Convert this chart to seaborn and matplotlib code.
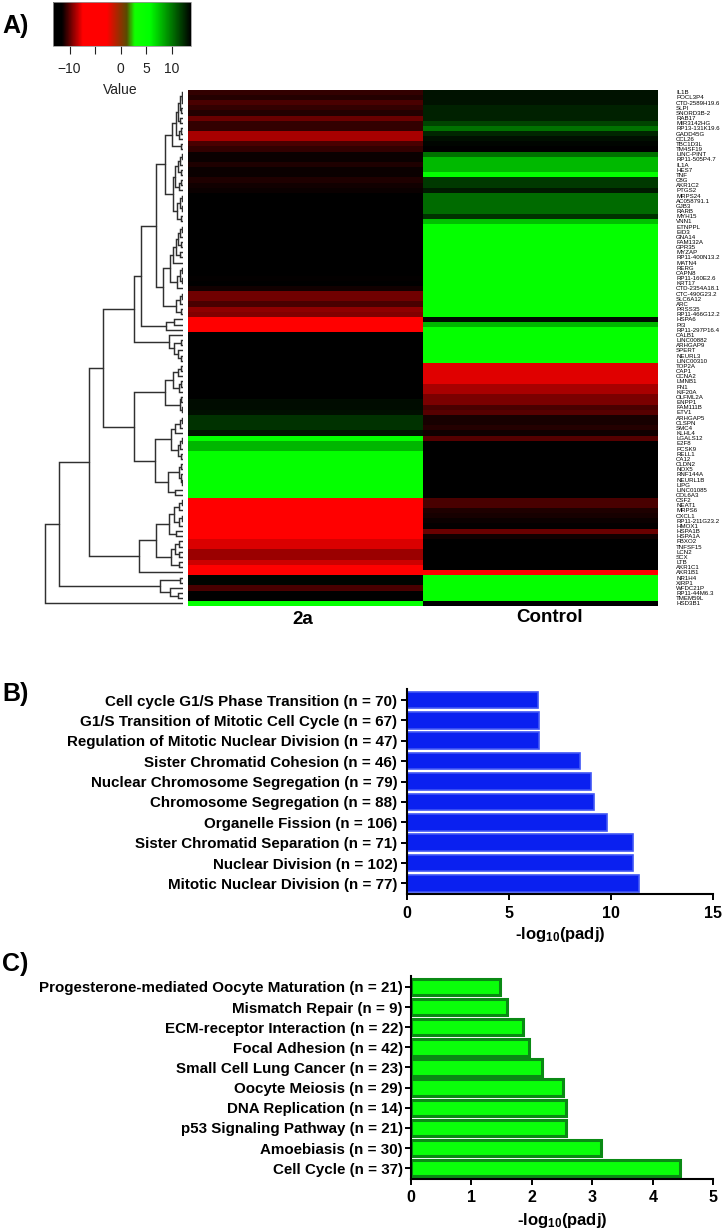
import pandas as pd
import matplotlib.pyplot as plt
from matplotlib.cm import ScalarMappable
from matplotlib.colors import LinearSegmentedColormap, Normalize
import seaborn as sns

sns.set_style("white")
plt.rcParams["font.family"] = ["Liberation Sans", "DejaVu Sans"]
plt.rcParams["mathtext.default"] = "regular"
plt.rcParams["text.color"] = "black"
plt.rcParams["axes.labelcolor"] = "black"
plt.rcParams["xtick.color"] = "black"
plt.rcParams["ytick.color"] = "black"

FIG_W, FIG_H = 722, 1228

# Panel A: heatmap, one value per gene
GENES = [
    "IL1B", "POCL3P4", "CTD-2589H19.6", "SLPI", "SNORD3B-2", "RAB17", "MIR3142HG",
    "RP13-131K19.6", "GADD45G", "CCL26", "TBC1D3L", "TM4SF19", "LINC-PINT",
    "RP11-505P4.7", "IL1A", "HES7", "TNF", "C8G", "AKR1C2", "PTGS2", "MRPS24",
    "AC058791.1", "GJB3", "RARB", "MYH15", "VNN1", "ETNPPL", "EID3", "GNA14",
    "FAM132A", "GPR35", "MYZAP", "RP11-400N13.2", "MATN4", "RERG", "CAPN8",
    "RP11-160E2.6", "KRT17", "CTD-2354A18.1", "CTC-490G23.2", "SLC6A12", "ARC",
    "PRSS35", "RP11-466G12.2", "HSPA6", "PI3", "RP11-297P16.4", "CALB1",
    "LINC00882", "ARHGAP9", "SPERT", "NEURL3", "LINC00310", "TOP2A", "CAP1",
    "CCNA2", "LMNB1", "FN1", "KIF20A", "OLFML2A", "ENPP1", "FAM111B", "ETV1",
    "ARHGAP5", "CLSPN", "SMC4", "KLHL4", "LGALS12", "E2F8", "PCSK9", "RELL1",
    "CA12", "CLDN2", "NOX5", "RNF144A", "NEURL1B", "LIPG", "LINC01085", "COL6A3",
    "CSF2", "NEAT1", "MRPS6", "CXCL1", "RP11-211G23.2", "HMOX1", "HSPA1B",
    "HSPA1A", "FBXO2", "TNFSF15", "LCN2", "SCX", "LTB", "AKR1C1", "AKR1B1",
    "NR1H4", "XIRP1", "WFDC21P", "RP11-44M6.3", "TMEM59L", "HSD3B1",
]
VALUES_2A = [
    -10.7, -10.9, -10.3, -10.7, -10.9, -9.8, -10.7, -10.7, -8.8, -8.8,
    -10.3, -10.7, -11.3, -11.3, -11.0, -11.3, -11.3, -11.0, -11.2, -11.3,
    -12, -12, -12, -12, -12, -12, -12, -12, -12, -12,
    -12, -12, -12, -12, -12, -12, -11.4, -12, -11.2, -9.7,
    -9.7, -10.3, -9.2, -9.4, -5, -5, -5, -12, -12, -12,
    -12, -12, -12, -12, -12, -12, -12, -12, -12, -12,
    13.4, 13.4, 13.3, 12.2, 12.2, 12.2, 13.2, 5, 8, 8,
    5, 5, 5, 5, 5, 5, 5, 5, 5, -5,
    -5, -5, -5, -5, -5, -5, -5, -8.0, -8.0, -9.0,
    -9.0, -8.2, -5, -5, 13.6, 13.6, -10.3, -12, -12, 5,
]
VALUES_CONTROL = [
    13.2, 13.2, 13.2, 12.7, 12.7, 12.7, 11.6, 10.2, 12.6, 13.3,
    13.6, 13.8, 10.2, 7.9, 7.9, 7.9, 5, 12, 12, 13,
    10.4, 10.4, 10.4, 10.4, 12.2, 7.7, 5, 5, 5, 5,
    5, 5, 5, 5, 5, 5, 5, 5, 5, 5,
    5, 5, 5, 5, 13.4, 8, 5, 5, 5, 5,
    5, 5, 5, -7.9, -7.9, -7.9, -7.9, -8.8, -8.8, -9.5,
    -9.5, -10.3, -10.1, -11.1, -11.1, -10.9, -11.2, -10.1, -12, -12,
    -12, -12, -12, -12, -12, -12, -12, -12, -12, -10.3,
    -10.3, -11.0, -11.1, -11.3, -11.4, -9.8, -11.2, -12, -12, -12,
    -12, -12, -12, -5, 5, 5, 5, 5, 5, -12,
]
VALUE_MIN, VALUE_MAX = -13.3, 13.8
KEY_TICKS = [-10, -5, 0, 5, 10]
KEY_LABELS = ["\u221210", "", "0", "5", "10"]

# Dendrogram: [height, child, child], leaves are row numbers
C1 = [11, [7.5, [5, [3, [1.5, 0, [1, 1, 2]], [2, 3, 4]], [3, 5, 6]], [4, [2, 7, 8], 9]], [2, 10, 11]]
C2 = [10, [8, [5, [3, [1.5, 12, 13], 14], [2.5, 15, 16]], [4, [2, 17, 18], 19]],
      [6, [3, [1, 20, 21], [1.5, 22, 23]], [2, 24, 25]]]
J1A = [10, [7, [5, [3, [1, 26, 27], 28], [2.5, 29, 30]], [3, 31, 32]], 33]
J1B = [6, [3, [1.5, 34, 35], [1, 36, 37]], 38]
J2 = [7, [3, [1.5, 39, 40], 41], [2.5, 42, 43]]
H_NODE = [27, [18, C1, C2], [20.5, [13, J1A, J1B], J2]]
G_NODE = [42, H_NODE, [17, [9, 44, 45], 46]]
F_NODE = [49, G_NODE, [14, 47, [9, [2.5, 48, 49], [5, 50, [2.5, 51, 52]]]]]
K1 = [17.7, [10, [5, [2, 53, 54], 55], [4, [2, 56, 57], 58]], [3.5, [2, 59, 60], [1.5, 61, 62]]]
K2A = [11.7, [8, [3, [1.5, 63, 64], 65], 66], [5.5, [3, [1.5, 67, 68], 69], [2.5, 70, 71]]]
K2B = [15, [4, [2, 72, 73], [2, 74, [1, 75, 76]]], [8, 77, 78]]
D_NODE = [80, F_NODE, [48.7, K1, [28, K2A, K2B]]]
E1A = [14.3, [9, [4, [1.5, 79, 80], 81], [4, [1.5, 82, 83], 84]], [7, 85, 86]]
E1B = [11.7, [8.5, [4, 87, 88], [4, 89, 90]], [4, 91, 92]]
B_NODE = [94, D_NODE, [44, [27, E1A, E1B], 93]]
C_NODE = [23, [3.5, 94, 95], [13, 96, [5.5, 97, 98]]]
TREE = [138, [124, B_NODE, C_NODE], 99]

# Panel B
PROCESS_TERMS = [
    "Cell cycle G1/S Phase Transition (n = 70)",
    "G1/S Transition of Mitotic Cell Cycle (n = 67)",
    "Regulation of Mitotic Nuclear Division (n = 47)",
    "Sister Chromatid Cohesion (n = 46)",
    "Nuclear Chromosome Segregation (n = 79)",
    "Chromosome Segregation (n = 88)",
    "Organelle Fission (n = 106)",
    "Sister Chromatid Separation (n = 71)",
    "Nuclear Division (n = 102)",
    "Mitotic Nuclear Division (n = 77)",
]
PROCESS_VALUES = [6.42, 6.46, 6.46, 8.5, 9.0, 9.17, 9.78, 11.09, 11.09, 11.36]

# Panel C
PATHWAY_TERMS = [
    "Progesterone-mediated Oocyte Maturation (n = 21)",
    "Mismatch Repair (n = 9)",
    "ECM-receptor Interaction (n = 22)",
    "Focal Adhesion (n = 42)",
    "Small Cell Lung Cancer (n = 23)",
    "Oocyte Meiosis (n = 29)",
    "DNA Replication (n = 14)",
    "p53 Signaling Pathway (n = 21)",
    "Amoebiasis (n = 30)",
    "Cell Cycle (n = 37)",
]
PATHWAY_VALUES = [1.48, 1.6, 1.86, 1.95, 2.17, 2.52, 2.56, 2.56, 3.15, 4.45]


def axes_px(fig, left, top, right, bottom):
    """Cria um eixo a partir de coordenadas em pixels da imagem."""
    return fig.add_axes([left / FIG_W, 1 - bottom / FIG_H,
                         (right - left) / FIG_W, (bottom - top) / FIG_H])


def key_pos(value):
    return (value - VALUE_MIN) / (VALUE_MAX - VALUE_MIN)


def draw_tree(ax, node):
    """Desenha o dendrograma e devolve (linha central, altura) do nó."""
    if isinstance(node, int):
        return node + 0.5, 0
    height, left, right = node
    y1, h1 = draw_tree(ax, left)
    y2, h2 = draw_tree(ax, right)
    ax.plot([h1, height, height, h2], [y1, y1, y2, y2], color="#303030",
            linewidth=1.05, solid_joinstyle="miter")
    return (y1 + y2) / 2, height


def draw_bars(ax, terms, values, fill, edge, edge_width, xmax, xticks, label_pad, xlabel_pad):
    sns.barplot(x=values, y=terms, ax=ax, color=fill, saturation=1, width=0.82,
                edgecolor=edge, linewidth=edge_width, orient="h")
    ax.set_xlim(0, xmax)
    ax.set_ylim(9.52, -0.54)
    ax.set_xticks(xticks)
    ax.set_ylabel("")
    ax.set_xlabel("-log$_{10}$(padj)", fontsize=12, fontweight="bold", labelpad=xlabel_pad)
    ax.tick_params(axis="x", length=4.4, width=1.4, color="black", bottom=True, pad=4)
    ax.tick_params(axis="y", length=4, width=1.4, color="black", left=True, pad=label_pad)
    for label in ax.get_xticklabels():
        label.set_fontweight("bold")
        label.set_fontsize(11.5)
    for label in ax.get_yticklabels():
        label.set_fontweight("bold")
        label.set_fontsize(10.9)
    sns.despine(ax=ax)
    for side in ("left", "bottom"):
        ax.spines[side].set_linewidth(1.5)
        ax.spines[side].set_color("black")


fig = plt.figure(figsize=(FIG_W / 100, FIG_H / 100), dpi=100, facecolor="white")

cmap = LinearSegmentedColormap.from_list("key", [
    (0.0, "#000000"),
    (key_pos(-11.5), "#000000"),
    (key_pos(-7.4), "#ff0000"),
    (key_pos(-2.7), "#ff0000"),
    (key_pos(1.2), "#5a4a00"),
    (key_pos(2.8), "#10ff00"),
    (key_pos(5.7), "#00ff00"),
    (1.0, "#000000"),
], N=512)

# Heatmap
ax_heat = axes_px(fig, 188, 89.7, 658, 606)
heat_df = pd.DataFrame({"2a": VALUES_2A, "Control": VALUES_CONTROL}, index=GENES)
sns.heatmap(heat_df, ax=ax_heat, cmap=cmap, vmin=VALUE_MIN, vmax=VALUE_MAX, cbar=False,
            xticklabels=False, yticklabels=True)
ax_heat.yaxis.tick_right()
ax_heat.set_ylabel("")
ax_heat.tick_params(axis="y", length=0, pad=13, labelsize=4.4, labelrotation=0)
ax_heat.text(0.49, 100 + 13.5 / 5.16, "2a", ha="center", va="center", fontsize=13.5,
             fontweight="bold", clip_on=False)
ax_heat.text(1.54, 100 + 11.5 / 5.16, "Control", ha="center", va="center", fontsize=13.5,
             fontweight="bold", clip_on=False)

# Dendrograma
ax_tree = axes_px(fig, 40, 89.7, 183, 606)
draw_tree(ax_tree, TREE)
ax_tree.set_xlim(143, 0)
ax_tree.set_ylim(100, 0)
ax_tree.axis("off")

# Legenda de cores
ax_key = axes_px(fig, 52.7, 1.5, 191, 46)
key_bar = fig.colorbar(ScalarMappable(Normalize(VALUE_MIN, VALUE_MAX), cmap), cax=ax_key,
                       orientation="horizontal")
key_bar.set_ticks(KEY_TICKS, labels=KEY_LABELS)
key_bar.ax.tick_params(length=5.5, width=0.8, color="#222222", labelsize=10, pad=6, labelcolor="#222222")
key_bar.outline.set_edgecolor("#999999")
key_bar.outline.set_linewidth(0.6)
key_bar.ax.minorticks_off()
fig.text(120.7 / FIG_W, 1 - 90 / FIG_H, "Value", ha="center", va="center", fontsize=10, color="#222222")

# Barras
ax_b = axes_px(fig, 407, 689, 713, 894)
draw_bars(ax_b, PROCESS_TERMS, PROCESS_VALUES, "#0a20f0", "#3f55f5", 1.2, 15, [0, 5, 10, 15], 3, 3)

ax_c = axes_px(fig, 410.6, 976, 713.4, 1178.7)
draw_bars(ax_c, PATHWAY_TERMS, PATHWAY_VALUES, "#0aff0a", "#0a8a14", 2.2, 5, [0, 1, 2, 3, 4, 5], 1.5, 4)

# Rótulos dos painéis
for label, y in (("A)", 26), ("B)", 694), ("C)", 964)):
    fig.text(2 / FIG_W, 1 - y / FIG_H, label, ha="left", va="center", fontsize=18, fontweight="bold")

fig.savefig("out.png", dpi=100, facecolor="white")
